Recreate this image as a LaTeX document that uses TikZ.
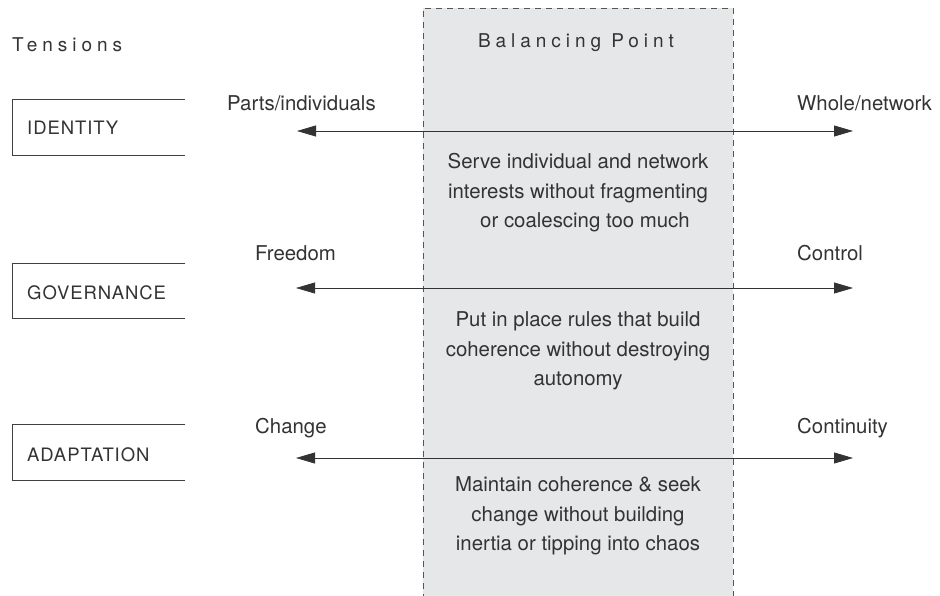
\documentclass[tikz,border=0pt]{standalone}
\usepackage{fontspec}
\setmainfont{TeX Gyre Heros}
\newfontfamily\spaced[LetterSpace=26]{TeX Gyre Heros}
\newfontfamily\caps[LetterSpace=5]{TeX Gyre Heros}
\usetikzlibrary{arrows.meta}
\definecolor{txt}{HTML}{333333}
\definecolor{band}{HTML}{E6E7E8}
\definecolor{dashc}{HTML}{555555}
\tikzset{
  body/.style={font=\fontsize{20.4}{29.5}\selectfont, text=txt, align=center, inner sep=0pt},
  endlabel/.style={font=\fontsize{20.4}{22}\selectfont, text=txt, anchor=west, inner sep=0pt},
  tensionlabel/.style={font=\caps\fontsize{18.5}{20}\selectfont, text=txt, anchor=west, inner sep=0pt},
  heading/.style={font=\spaced\fontsize{19}{21}\selectfont, text=txt, inner sep=0pt},
  boxline/.style={draw=black!75, line width=0.9pt},
  tensionarrow/.style={draw=black!80, line width=0.8pt, {Triangle[length=19pt,width=11pt]}-{Triangle[length=19pt,width=11pt]}},
  bandedge/.style={draw=dashc, line width=0.9pt, dash pattern=on 6pt off 5pt},
}
\begin{document}
\begin{tikzpicture}[x=1pt,y=-1pt]
\useasboundingbox (0,0) rectangle (940,596);
% balancing band
\fill[band] (423,8) rectangle (733,600);
\draw[bandedge] (423,600) -- (423,8) -- (733,8) -- (733,600);
\node[heading] (bp) at (576,43) {Balancing Point};
\node[heading, anchor=west] (tens) at (12,45) {Tensions};

% left boxes
\draw[boxline] (185,99) -- (12,99) -- (12,155) -- (185,155);
\node[tensionlabel] (id) at (27,128) {IDENTITY};
\draw[boxline] (185,263) -- (12,263) -- (12,318) -- (185,318);
\node[tensionlabel] (gov) at (27,293) {GOVERNANCE};
\draw[boxline] (185,424) -- (12,424) -- (12,480) -- (185,480);
\node[tensionlabel] (ad) at (27,455) {ADAPTATION};

% identity
\node[endlabel] (parts) at (227,103) {Parts/individuals};
\node[endlabel] (whole) at (797,103) {Whole/network};
\coordinate (idL) at (297,131);
\coordinate (idR) at (853,131);
\draw[tensionarrow] (idL) -- (idR);
\node[body] (serve) at (578,193) {Serve individual and network\\interests without fragmenting\\\hspace*{14pt}or coalescing too much};

% governance
\node[endlabel] (free) at (255,253) {Freedom};
\node[endlabel] (ctrl) at (797,253) {Control};
\coordinate (govL) at (296,288);
\coordinate (govR) at (853,288);
\draw[tensionarrow] (govL) -- (govR);
\node[body] (rules) at (578,351) {Put in place rules that build\\coherence without destroying\\autonomy};

% adaptation
\node[endlabel] (chg) at (255,428) {Change};
\node[endlabel] (cont) at (797,428) {Continuity};
\coordinate (adL) at (296,458);
\coordinate (adR) at (853,458);
\draw[tensionarrow] (adL) -- (adR);
\node[body] (maint) at (578,516) {Maintain coherence \& seek\\change without building\\inertia or tipping into chaos};
\end{tikzpicture}
\end{document}
